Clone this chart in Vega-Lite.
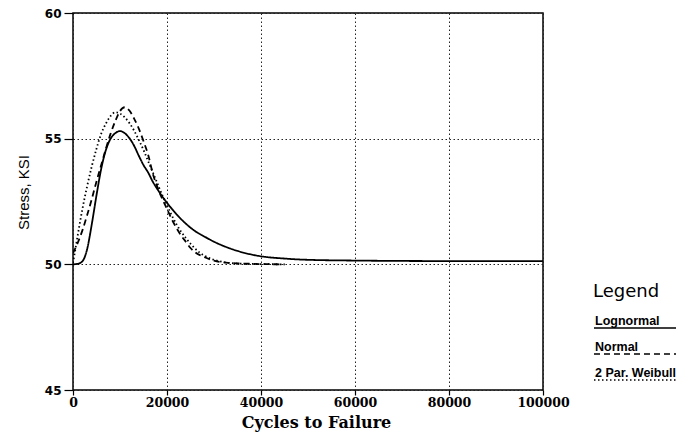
{
  "$schema": "https://vega.github.io/schema/vega-lite/v6.json",
  "autosize": "none",
  "width": 470,
  "height": 377,
  "padding": {"left": 73, "top": 13, "right": 141, "bottom": 42},
  "background": "white",
  "config": {
    "view": {"stroke": "black", "strokeWidth": 1.5},
    "axis": {
      "domain": false,
      "grid": true,
      "gridDash": [1.5, 2.5],
      "gridColor": "#222222",
      "gridWidth": 1,
      "gridOpacity": 1,
      "tickColor": "black",
      "tickWidth": 1.2,
      "labelColor": "black",
      "titleColor": "black"
    }
  },
  "data": {
    "values": [
      {"cycles": 0, "stress": 50.0, "dist": "Lognormal"},
      {"cycles": 1000, "stress": 50.02, "dist": "Lognormal"},
      {"cycles": 2000, "stress": 50.12, "dist": "Lognormal"},
      {"cycles": 3000, "stress": 50.6, "dist": "Lognormal"},
      {"cycles": 4000, "stress": 51.6, "dist": "Lognormal"},
      {"cycles": 5000, "stress": 52.75, "dist": "Lognormal"},
      {"cycles": 6000, "stress": 53.8, "dist": "Lognormal"},
      {"cycles": 7000, "stress": 54.55, "dist": "Lognormal"},
      {"cycles": 8000, "stress": 55.0, "dist": "Lognormal"},
      {"cycles": 9000, "stress": 55.22, "dist": "Lognormal"},
      {"cycles": 10000, "stress": 55.3, "dist": "Lognormal"},
      {"cycles": 11000, "stress": 55.22, "dist": "Lognormal"},
      {"cycles": 12000, "stress": 55.02, "dist": "Lognormal"},
      {"cycles": 13000, "stress": 54.72, "dist": "Lognormal"},
      {"cycles": 14000, "stress": 54.32, "dist": "Lognormal"},
      {"cycles": 15000, "stress": 53.95, "dist": "Lognormal"},
      {"cycles": 16000, "stress": 53.65, "dist": "Lognormal"},
      {"cycles": 17000, "stress": 53.28, "dist": "Lognormal"},
      {"cycles": 18000, "stress": 52.98, "dist": "Lognormal"},
      {"cycles": 19000, "stress": 52.7, "dist": "Lognormal"},
      {"cycles": 20000, "stress": 52.45, "dist": "Lognormal"},
      {"cycles": 22000, "stress": 52.0, "dist": "Lognormal"},
      {"cycles": 24000, "stress": 51.62, "dist": "Lognormal"},
      {"cycles": 26000, "stress": 51.32, "dist": "Lognormal"},
      {"cycles": 28000, "stress": 51.1, "dist": "Lognormal"},
      {"cycles": 30000, "stress": 50.9, "dist": "Lognormal"},
      {"cycles": 33000, "stress": 50.66, "dist": "Lognormal"},
      {"cycles": 36000, "stress": 50.48, "dist": "Lognormal"},
      {"cycles": 40000, "stress": 50.32, "dist": "Lognormal"},
      {"cycles": 45000, "stress": 50.23, "dist": "Lognormal"},
      {"cycles": 50000, "stress": 50.18, "dist": "Lognormal"},
      {"cycles": 60000, "stress": 50.15, "dist": "Lognormal"},
      {"cycles": 80000, "stress": 50.13, "dist": "Lognormal"},
      {"cycles": 100000, "stress": 50.13, "dist": "Lognormal"},

      {"cycles": 0, "stress": 50.45, "dist": "Normal"},
      {"cycles": 1000, "stress": 50.85, "dist": "Normal"},
      {"cycles": 2000, "stress": 51.35, "dist": "Normal"},
      {"cycles": 3000, "stress": 51.95, "dist": "Normal"},
      {"cycles": 4000, "stress": 52.6, "dist": "Normal"},
      {"cycles": 5000, "stress": 53.3, "dist": "Normal"},
      {"cycles": 6000, "stress": 53.95, "dist": "Normal"},
      {"cycles": 7000, "stress": 54.6, "dist": "Normal"},
      {"cycles": 8000, "stress": 55.2, "dist": "Normal"},
      {"cycles": 9000, "stress": 55.7, "dist": "Normal"},
      {"cycles": 10000, "stress": 56.1, "dist": "Normal"},
      {"cycles": 11000, "stress": 56.25, "dist": "Normal"},
      {"cycles": 12000, "stress": 56.12, "dist": "Normal"},
      {"cycles": 13000, "stress": 55.8, "dist": "Normal"},
      {"cycles": 14000, "stress": 55.4, "dist": "Normal"},
      {"cycles": 15000, "stress": 54.9, "dist": "Normal"},
      {"cycles": 16000, "stress": 54.35, "dist": "Normal"},
      {"cycles": 17000, "stress": 53.6, "dist": "Normal"},
      {"cycles": 18000, "stress": 53.05, "dist": "Normal"},
      {"cycles": 19000, "stress": 52.6, "dist": "Normal"},
      {"cycles": 20000, "stress": 52.2, "dist": "Normal"},
      {"cycles": 21000, "stress": 51.8, "dist": "Normal"},
      {"cycles": 22000, "stress": 51.45, "dist": "Normal"},
      {"cycles": 23000, "stress": 51.15, "dist": "Normal"},
      {"cycles": 24000, "stress": 50.9, "dist": "Normal"},
      {"cycles": 25000, "stress": 50.65, "dist": "Normal"},
      {"cycles": 26000, "stress": 50.48, "dist": "Normal"},
      {"cycles": 28000, "stress": 50.28, "dist": "Normal"},
      {"cycles": 30000, "stress": 50.15, "dist": "Normal"},
      {"cycles": 33000, "stress": 50.06, "dist": "Normal"},
      {"cycles": 38000, "stress": 50.02, "dist": "Normal"},
      {"cycles": 45000, "stress": 50.0, "dist": "Normal"},

      {"cycles": 0, "stress": 50.05, "dist": "2 Par. Weibull"},
      {"cycles": 500, "stress": 50.6, "dist": "2 Par. Weibull"},
      {"cycles": 1000, "stress": 51.15, "dist": "2 Par. Weibull"},
      {"cycles": 2000, "stress": 52.2, "dist": "2 Par. Weibull"},
      {"cycles": 3000, "stress": 53.1, "dist": "2 Par. Weibull"},
      {"cycles": 4000, "stress": 53.9, "dist": "2 Par. Weibull"},
      {"cycles": 5000, "stress": 54.6, "dist": "2 Par. Weibull"},
      {"cycles": 6000, "stress": 55.2, "dist": "2 Par. Weibull"},
      {"cycles": 7000, "stress": 55.6, "dist": "2 Par. Weibull"},
      {"cycles": 8000, "stress": 55.9, "dist": "2 Par. Weibull"},
      {"cycles": 9000, "stress": 56.05, "dist": "2 Par. Weibull"},
      {"cycles": 10000, "stress": 56.0, "dist": "2 Par. Weibull"},
      {"cycles": 11000, "stress": 55.85, "dist": "2 Par. Weibull"},
      {"cycles": 12000, "stress": 55.62, "dist": "2 Par. Weibull"},
      {"cycles": 13000, "stress": 55.32, "dist": "2 Par. Weibull"},
      {"cycles": 14000, "stress": 54.95, "dist": "2 Par. Weibull"},
      {"cycles": 15000, "stress": 54.55, "dist": "2 Par. Weibull"},
      {"cycles": 16000, "stress": 54.1, "dist": "2 Par. Weibull"},
      {"cycles": 17000, "stress": 53.65, "dist": "2 Par. Weibull"},
      {"cycles": 18000, "stress": 53.2, "dist": "2 Par. Weibull"},
      {"cycles": 19000, "stress": 52.75, "dist": "2 Par. Weibull"},
      {"cycles": 20000, "stress": 52.35, "dist": "2 Par. Weibull"},
      {"cycles": 21000, "stress": 51.95, "dist": "2 Par. Weibull"},
      {"cycles": 22000, "stress": 51.6, "dist": "2 Par. Weibull"},
      {"cycles": 23000, "stress": 51.3, "dist": "2 Par. Weibull"},
      {"cycles": 24000, "stress": 51.05, "dist": "2 Par. Weibull"},
      {"cycles": 25000, "stress": 50.82, "dist": "2 Par. Weibull"},
      {"cycles": 26000, "stress": 50.62, "dist": "2 Par. Weibull"},
      {"cycles": 27000, "stress": 50.46, "dist": "2 Par. Weibull"},
      {"cycles": 28000, "stress": 50.34, "dist": "2 Par. Weibull"},
      {"cycles": 30000, "stress": 50.18, "dist": "2 Par. Weibull"},
      {"cycles": 32000, "stress": 50.09, "dist": "2 Par. Weibull"},
      {"cycles": 35000, "stress": 50.03, "dist": "2 Par. Weibull"},
      {"cycles": 40000, "stress": 50.01, "dist": "2 Par. Weibull"},
      {"cycles": 45000, "stress": 50.0, "dist": "2 Par. Weibull"}
    ]
  },
  "mark": {"type": "line", "interpolate": "monotone", "color": "black", "strokeWidth": 1.8, "clip": true},
  "encoding": {
    "x": {
      "field": "cycles",
      "type": "quantitative",
      "scale": {"domain": [0, 100000], "nice": false},
      "axis": {
        "values": [0, 20000, 40000, 60000, 80000, 100000],
        "format": "d",
        "tickSize": 5,
        "labelPadding": 1,
        "labelFont": "DejaVu Serif",
        "labelFontWeight": "bold",
        "labelFontSize": 12.5,
        "labelFlush": false,
        "title": "Cycles to Failure",
        "titleFont": "DejaVu Serif",
        "titleFontWeight": "bold",
        "titleFontSize": 16,
        "titlePadding": 6,
        "titleX": 243
      }
    },
    "y": {
      "field": "stress",
      "type": "quantitative",
      "scale": {"domain": [45, 60], "nice": false, "zero": false},
      "axis": {
        "values": [45, 50, 55, 60],
        "tickSize": 9,
        "labelPadding": 3,
        "labelFont": "DejaVu Sans",
        "labelFontWeight": "bold",
        "labelFontSize": 12,
        "title": "Stress, KSI",
        "titleFont": "Liberation Sans",
        "titleFontWeight": "normal",
        "titleFontSize": 15,
        "titlePadding": 13,
        "titleY": 179
      }
    },
    "strokeDash": {
      "field": "dist",
      "type": "nominal",
      "scale": {
        "domain": ["Lognormal", "Normal", "2 Par. Weibull"],
        "range": [[1, 0], [6, 4], [1.5, 2.5]]
      },
      "legend": {
        "title": "Legend",
        "orient": "none",
        "legendX": 520,
        "legendY": 270,
        "padding": 0,
        "clipHeight": 24,
        "symbolType": "stroke",
        "symbolSize": 8100,
        "symbolStrokeWidth": 1.5,
        "symbolStrokeColor": "black",
        "labelOffset": -90,
        "labelBaseline": "bottom",
        "labelFont": "Liberation Sans Narrow, Liberation Sans",
        "labelFontWeight": "bold",
        "labelFontSize": 12.5,
        "labelColor": "black",
        "titleFont": "DejaVu Sans",
        "titleFontSize": 18,
        "titleFontWeight": "normal",
        "titleColor": "black",
        "titlePadding": 15,
        "rowPadding": 1
      }
    }
  }
}
